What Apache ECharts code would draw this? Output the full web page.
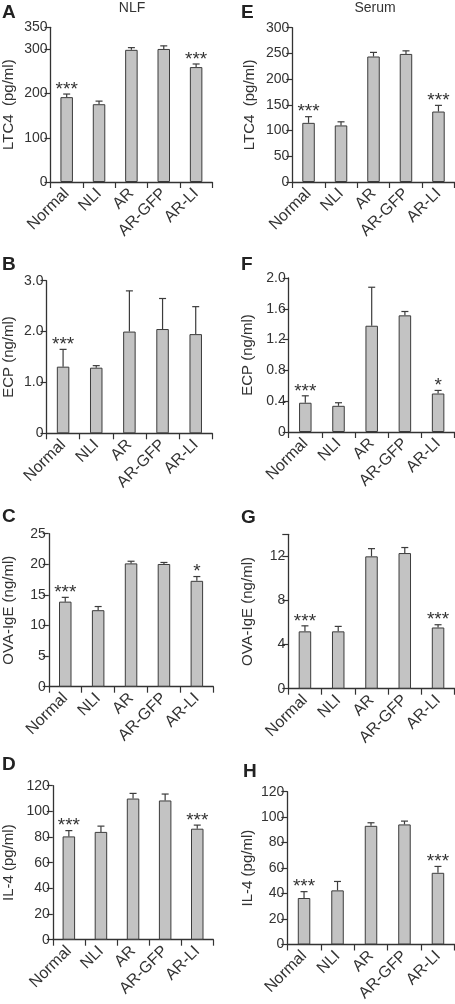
<!DOCTYPE html>
<html><head><meta charset="utf-8">
<script src="https://cdn.jsdelivr.net/npm/echarts@6/dist/echarts.min.js"></script>
<style>html,body{margin:0;padding:0;background:#fff}#c{width:455px;height:1004px}</style>
</head><body><div id="c"></div>
<script>
const categories = ['Normal', 'NLI', 'AR', 'AR-GFP', 'AR-LI'];

// Panel A: NLF LTC4
const nlfLTC4 = [192, 176, 299, 301, 260];
const nlfLTC4Err = [7, 7, 5, 7, 7];
const nlfLTC4Stars = ['***', '', '', '', '***'];
// Panel E: Serum LTC4
const serLTC4 = [115, 110, 244, 249, 137];
const serLTC4Err = [12, 7, 8, 6, 12];
const serLTC4Stars = ['***', '', '', '', '***'];
// Panel B: NLF ECP
const nlfECP = [1.31, 1.29, 2.0, 2.05, 1.95];
const nlfECPErr = [0.34, 0.04, 0.80, 0.60, 0.54];
const nlfECPStars = ['***', '', '', '', ''];
// Panel F: Serum ECP
const serECP = [0.38, 0.34, 1.38, 1.515, 0.50];
const serECPErr = [0.09, 0.04, 0.50, 0.05, 0.04];
const serECPStars = ['***', '', '', '', '*'];
// Panel C: NLF OVA-IgE
const nlfIgE = [13.9, 12.5, 20.15, 20.05, 17.3];
const nlfIgEErr = [0.7, 0.6, 0.35, 0.25, 0.7];
const nlfIgEStars = ['***', '', '', '', '*'];
// Panel G: Serum OVA-IgE
const serIgE = [5.2, 5.2, 12.0, 12.3, 5.55];
const serIgEErr = [0.5, 0.45, 0.7, 0.5, 0.25];
const serIgEStars = ['***', '', '', '', '***'];
// Panel D: NLF IL-4
const nlfIL4 = [80.5, 84, 110, 108.5, 86.5];
const nlfIL4Err = [4.5, 4.5, 4, 5, 2.8];
const nlfIL4Stars = ['***', '', '', '', '***'];
// Panel H: Serum IL-4
const serIL4 = [36.5, 42.5, 93.2, 94.3, 56.3];
const serIL4Err = [5, 7, 2.4, 2.6, 5];
const serIL4Stars = ['***', '', '', '', '***'];

const FONT = 'Liberation Sans, Arial, sans-serif';
const INK = '#333';

const panels = [
  {letter:'A', vals:nlfLTC4, err:nlfLTC4Err, stars:nlfLTC4Stars, name:'LTC4  (pg/ml)', min:0, max:350, interval:100, dec:0,
   rect:{left:50, top:27.3, width:162.3, height:154.7}, nameDist:42.5, letterPos:[2,3]},
  {letter:'E', vals:serLTC4, err:serLTC4Err, stars:serLTC4Stars, name:'LTC4  (pg/ml)', min:0, max:300, interval:50, dec:0,
   rect:{left:292.3, top:27.7, width:162.4, height:154.3}, nameDist:43, letterPos:[241,3]},
  {letter:'B', vals:nlfECP, err:nlfECPErr, stars:nlfECPStars, name:'ECP (ng/ml)', min:0, max:3, interval:1, dec:1,
   rect:{left:46, top:280.7, width:166.3, height:152.6}, nameDist:38.5, letterPos:[2,255]},
  {letter:'F', vals:serECP, err:serECPErr, stars:serECPStars, name:'ECP (ng/ml)', min:0, max:2, interval:0.4, dec:1,
   rect:{left:288.7, top:278, width:166, height:154}, nameDist:41.7, letterPos:[241,255]},
  {letter:'C', vals:nlfIgE, err:nlfIgEErr, stars:nlfIgEStars, name:'OVA-IgE (ng/ml)', min:0, max:25, interval:5, dec:0,
   rect:{left:48.3, top:533.7, width:165, height:153}, nameDist:40.8, letterPos:[2,507]},
  {letter:'G', vals:serIgE, err:serIgEErr, stars:serIgEStars, name:'OVA-IgE (ng/ml)', min:0, max:14, interval:4, dec:0, hideMax:true,
   rect:{left:288.3, top:534.3, width:166.4, height:154.4}, nameDist:41.3, letterPos:[241,508]},
  {letter:'D', vals:nlfIL4, err:nlfIL4Err, stars:nlfIL4Stars, name:'IL-4 (pg/ml)', min:0, max:120, interval:20, dec:0,
   rect:{left:52.3, top:785.7, width:161, height:154}, nameDist:44.8, letterPos:[2,755]},
  {letter:'H', vals:serIL4, err:serIL4Err, stars:serIL4Stars, name:'IL-4 (pg/ml)', min:0, max:120, interval:20, dec:0,
   rect:{left:287.3, top:791.7, width:167.4, height:153.6}, nameDist:40.3, letterPos:[243,762]}
];

const grid = [], xAxis = [], yAxis = [], series = [], graphic = [];
panels.forEach((p, k) => {
  grid.push(Object.assign({containLabel:false}, p.rect));
  xAxis.push({
    type:'category', gridIndex:k, data:categories, boundaryGap:true,
    axisLine:{lineStyle:{color:INK, width:1.3}},
    axisTick:{show:true, length:6, lineStyle:{color:INK, width:1.2}},
    axisLabel:{interval:0, rotate:45, margin:9, fontSize:16, color:INK, fontFamily:FONT}
  });
  yAxis.push({
    type:'value', gridIndex:k, min:p.min, max:p.max, interval:p.interval,
    name:p.name, nameLocation:'middle', nameGap:p.nameDist - 8,
    nameTextStyle:{fontSize:15, color:INK, fontFamily:FONT},
    axisLine:{show:true, lineStyle:{color:INK, width:1.3}},
    axisTick:{show:true, length:6, lineStyle:{color:INK, width:1.2}},
    splitLine:{show:false},
    axisLabel:{fontSize:14, color:INK, fontFamily:FONT, margin:3,
      formatter:(v) => {
        if (p.hideMax && Math.abs(v - p.max) < 1e-9) return '';
        if (Math.abs(v) < 1e-9) return '0';
        return p.dec ? (+v).toFixed(p.dec) : String(Math.round(v));
      }}
  });
  series.push({
    type:'bar', xAxisIndex:k, yAxisIndex:k, data:p.vals, barWidth:12.5,
    itemStyle:{color:'#c3c3c3', borderColor:'#3c3c3c', borderWidth:1},
    z:2
  });
  series.push({
    type:'custom', xAxisIndex:k, yAxisIndex:k, z:3,
    data:p.vals.map((v, i) => [i, v, v + p.err[i]]),
    renderItem:(params, api) => {
      const i = api.value(0);
      const b = api.coord([i, api.value(1)]);
      const t = api.coord([i, api.value(2)]);
      const children = [
        {type:'line', shape:{x1:b[0], y1:b[1], x2:t[0], y2:t[1]}, style:{stroke:'#3c3c3c', lineWidth:1.2}},
        {type:'line', shape:{x1:t[0]-3.5, y1:t[1], x2:t[0]+3.5, y2:t[1]}, style:{stroke:'#3c3c3c', lineWidth:1.2}}
      ];
      const s = p.stars[params.dataIndex];
      if (s) children.push({type:'text', x:t[0], y:t[1] + 5,
        style:{text:s, fill:INK, font:'19px ' + FONT, textAlign:'center', textVerticalAlign:'bottom'}});
      return {type:'group', children};
    }
  });
  graphic.push({type:'text', left:p.letterPos[0], top:p.letterPos[1],
    style:{text:p.letter, font:'bold 19px ' + FONT, fill:'#222'}});
});

graphic.push({type:'text', x:132, y:8, style:{text:'NLF', font:'14px ' + FONT, fill:INK, textAlign:'center', textVerticalAlign:'middle'}});
graphic.push({type:'text', x:375, y:8, style:{text:'Serum', font:'14px ' + FONT, fill:INK, textAlign:'center', textVerticalAlign:'middle'}});

const chart = echarts.init(document.getElementById('c'), null, {renderer:'canvas'});
chart.setOption({animation:false, backgroundColor:'#fff', grid, xAxis, yAxis, series, graphic});
</script></body></html>
